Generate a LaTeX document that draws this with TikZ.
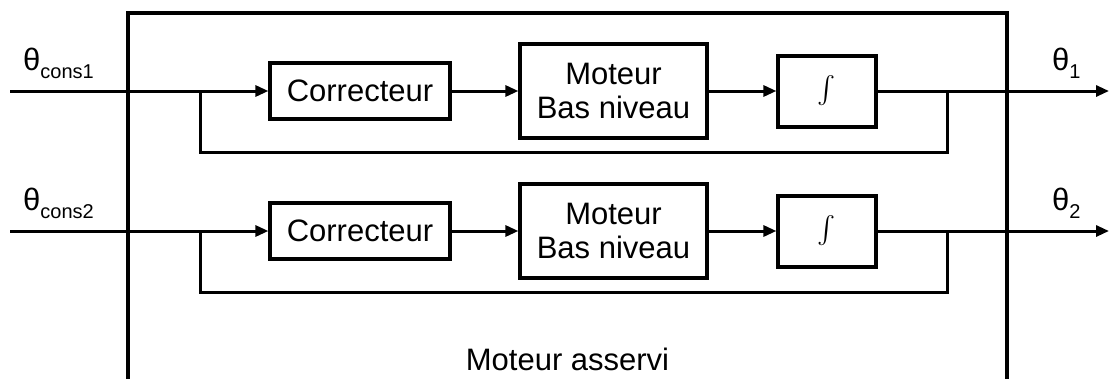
\documentclass[tikz,border=0pt]{standalone}
\usepackage{fontspec}
\usepackage{graphicx}
\setmainfont{Liberation Sans}
\usetikzlibrary{arrows.meta}

\begin{document}
\begin{tikzpicture}[x=1pt,y=-1pt,
  txt/.style={font=\fontsize{31}{35}\selectfont},
  blk/.style={draw,line width=3.2pt,inner sep=0pt,align=center,txt},
  wire/.style={line width=3pt},
  arr/.style={wire,-{Triangle[length=13pt,width=11pt]}},
  sig/.style={txt,inner sep=0pt,anchor=base west}]
  \useasboundingbox (0,0) rectangle (1110,378);

  % servo enclosure, open at the bottom
  \draw[line width=4pt] (128,380) -- (128,13) -- (1007,13) -- (1007,380);
  \node[txt,anchor=base] (titre) at (567.5,370) {Moteur asservi};

  \foreach \i/\dy in {1/0,2/140}{
    \node[blk,minimum width=180pt,minimum height=56pt] (corr\i) at (360,91+\dy) {Correcteur};
    \node[blk,minimum width=187pt,minimum height=94pt] (mot\i) at (613.5,91+\dy) {Moteur\\[-1pt]Bas niveau};
    \node[blk,minimum width=98pt,minimum height=71pt] (int\i) at (827,91.5+\dy) {\resizebox{!}{32pt}{$\int$}};

    \coordinate (in\i) at (10,91+\dy);
    \coordinate (split\i) at (200,91+\dy);
    \coordinate (join\i) at (947,91+\dy);
    \coordinate (back\i) at (200,152+\dy);
    \coordinate (out\i) at (1109,91+\dy);

    \draw[arr] (in\i) -- (corr\i.west |- in\i);
    \draw[arr] (corr\i) -- (mot\i);
    \draw[arr] (mot\i.east |- in\i) -- (int\i.west |- in\i);
    \draw[arr] (int\i.east |- in\i) -- (out\i);
    \draw[wire] (split\i) -- (back\i) -| (join\i);
  }

  % signal labels
  \node[sig] (tc1) at (23,70) {θ\raisebox{-8pt}{\fontsize{20}{22}\selectfont cons1}};
  \node[sig] (tc2) at (23,210) {θ\raisebox{-8pt}{\fontsize{20}{22}\selectfont cons2}};
  \node[sig] (t1) at (1052,70) {θ\raisebox{-8pt}{\fontsize{20}{22}\selectfont 1}};
  \node[sig] (t2) at (1052,210) {θ\raisebox{-8pt}{\fontsize{20}{22}\selectfont 2}};
\end{tikzpicture}
\end{document}
